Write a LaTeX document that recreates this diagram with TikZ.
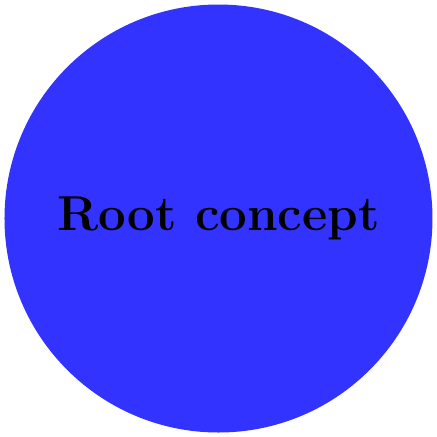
\documentclass[tikz,border=0pt]{standalone}
\usetikzlibrary{mindmap}
\begin{document}
\begin{tikzpicture}
\useasboundingbox (-2.042,-2.042) rectangle (2.042,2.042);
\tikzset{rootstyle/.style={circle, fill=blue!80, minimum size=4cm, inner sep=0pt, font=\fontsize{13.05}{16}\selectfont\bfseries, text=black}}
\node[rootstyle] (root) at (0,0) {Root concept};
\end{tikzpicture}
\end{document}
